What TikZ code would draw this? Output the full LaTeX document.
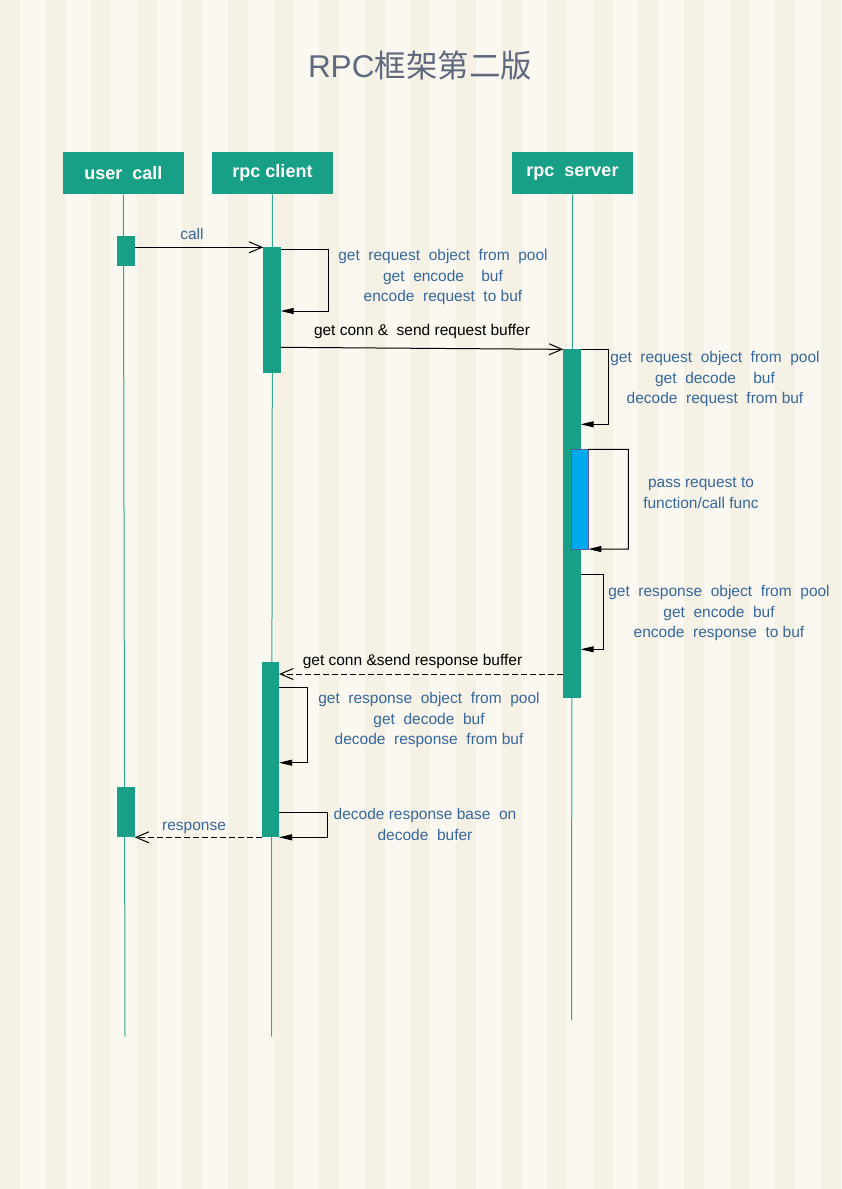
\documentclass[tikz,border=0pt]{standalone}
\usepackage{fontspec}
\setmainfont{Liberation Sans}
\newfontfamily\cjk{Noto Sans CJK SC}
\usetikzlibrary{arrows.meta}
\definecolor{bgA}{HTML}{FAF8F0}
\definecolor{bgB}{HTML}{F5F1E4}
\definecolor{tealc}{HTML}{17A086}
\definecolor{lifec}{HTML}{2FA98F}
\definecolor{labc}{HTML}{36679D}
\definecolor{titlec}{HTML}{5E687E}
\definecolor{bluebar}{HTML}{00A8EC}
\tikzset{
  head/.style={fill=tealc, draw=none, text=white, font=\bfseries\fontsize{18}{20}\selectfont,
    minimum width=121pt, minimum height=42pt, inner sep=0pt, outer sep=0pt},
  bar/.style={fill=tealc, draw=none, minimum width=17.4pt, inner sep=0pt, outer sep=0pt},
  lifeline/.style={draw=lifec, line width=1pt},
  msg/.style={draw=black, line width=1pt, -{Straight Barb[length=13pt,width=11pt]}},
  ret/.style={msg, dash pattern=on 6pt off 3pt},
  selfmsg/.style={draw=black, line width=1pt, -{Triangle[length=13pt,width=6pt]}},
  lab/.style={text=labc, font=\fontsize{15.5}{20.5}\selectfont, align=center, inner sep=0pt},
  blab/.style={lab, text=black}
}
\begin{document}
\begin{tikzpicture}[x=1pt,y=-1pt]
% background
\fill[bgA] (0,0) rectangle (841,1189);
\foreach \i in {0,...,18} \fill[bgB] ({\i*45.6},0) rectangle ++(20,1189);
\useasboundingbox (0,0) rectangle (841,1189);

% title
\node[text=titlec, font=\fontsize{31.5}{36}\selectfont] (title) at (420,66) {RPC{\cjk 框架第二版}};

% headers
\node[head] (uc) at (123.4,173.3) {user \ call};
\node[head] (rc) at (272.5,173.3) {rpc client};
\node[head] (rs) at (572.5,173.3) {rpc \ server};

% lifeline ends
\coordinate (ucEnd) at (125,1036.5);
\coordinate (rcEnd) at (271.5,1036.5);
\coordinate (rsEnd) at (571.5,1020);
\draw[lifeline] (uc.south) -- (ucEnd);
\draw[lifeline] (rc.south) -- (rcEnd);
\draw[lifeline] (rs.south) -- (rsEnd);

% activation bars
\node[bar, minimum height=30pt] (ub1) at (126.1,250.7) {};
\node[bar, minimum height=125.7pt] (cb1) at (272,310.2) {};
\node[bar, minimum height=348.7pt] (sb) at (572,523.7) {};
\node[fill=bluebar, draw=gray!70!blue, line width=0.6pt, minimum width=17.3pt, minimum height=99.7pt, inner sep=0pt, outer sep=0pt] (bb) at (579.7,499.2) {};
\node[bar, minimum height=175pt, minimum width=16.7pt] (cb2) at (270.7,749.8) {};
\node[bar, minimum height=50.6pt] (ub2) at (126,812) {};

% call
\draw[msg] (ub1.east |- 0,247.3) -- (cb1.west |- 0,247.3);
\node[lab] (lcall) at (192,234) {call};

% client self loop 1
\draw[selfmsg] (cb1.east |- 0,249.3) -| (328.3,311) -- (cb1.east |- 0,311);
\node[lab] (l1) at (443,277) {get \ request \ object \ from \ pool\\get \ encode \ \ \ buf\\encode \ request \ to buf};

% send request
\draw[msg] (cb1.east |- 0,347.3) -- (sb.north west);
\node[blab] (lsend) at (422,331) {get conn \& \ send request buffer};

% server self loop 1
\draw[selfmsg] (sb.east |- 0,349.8) -| (608.3,424.3) -- (sb.east |- 0,424.3);
\node[lab] (l2) at (715,379) {get \ request \ object \ from \ pool\\get \ decode \ \ \ buf\\decode \ request \ from buf};

% blue bar loop
\draw[selfmsg] (bb.north east) -| (628.3,549) -- (bb.south east);
\node[lab] (l3) at (701,493) {pass request to\\function/call func};

% server self loop 3
\draw[selfmsg] (sb.east |- 0,574.3) -| (603.3,649.3) -- (sb.east |- 0,649.3);
\node[lab] (l4) at (719,613) {get \ response \ object \ from \ pool\\get \ encode \ buf\\encode \ response \ to buf};

% return response buffer
\draw[ret] (sb.west |- 0,674) -- (cb2.east |- 0,674);
\node[blab] (lret) at (412.5,661.5) {get conn \&send response buffer};

% client self loop 2
\draw[selfmsg] (cb2.east |- 0,687.7) -| (307.3,762.7) -- (cb2.east |- 0,762.7);
\node[lab] (l5) at (429,720) {get \ response \ object \ from \ pool\\get \ decode \ buf\\decode \ response \ from buf};

% client self loop 3
\draw[selfmsg] (cb2.east |- 0,812.7) -| (327.3,837.3) -- (cb2.east |- 0,837.3);
\node[lab] (l6) at (425,824.5) {decode response base \ on\\decode \ bufer};

% response
\draw[ret] (cb2.west |- 0,837.3) -- (ub2.south east);
\node[lab] (lresp) at (194,827.5) {response};
\end{tikzpicture}
\end{document}
